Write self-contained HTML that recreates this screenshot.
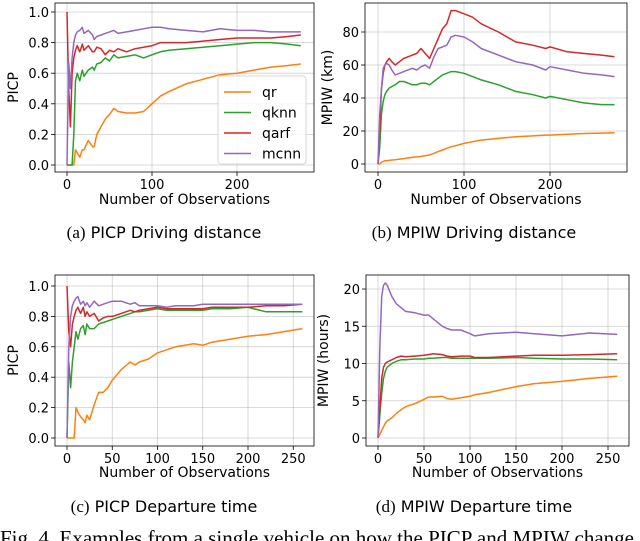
<!DOCTYPE html>
<html><head><meta charset="utf-8"><style>
body{margin:0;background:#fff;width:640px;height:541px;overflow:hidden}
svg{display:block}
</style></head><body>
<svg id="fig" width="640" height="541" xmlns="http://www.w3.org/2000/svg">
<text x="164" y="238" text-anchor="middle" font-size="17"><tspan font-family="Liberation Serif, serif">(a)</tspan><tspan font-family="DejaVu Sans, sans-serif" font-size="16"> PICP Driving distance</tspan></text>
<text x="474" y="238" text-anchor="middle" font-size="17"><tspan font-family="Liberation Serif, serif">(b)</tspan><tspan font-family="DejaVu Sans, sans-serif" font-size="16"> MPIW Driving distance</tspan></text>
<text x="164" y="512" text-anchor="middle" font-size="17"><tspan font-family="Liberation Serif, serif">(c)</tspan><tspan font-family="DejaVu Sans, sans-serif" font-size="16"> PICP Departure time</tspan></text>
<text x="474" y="512" text-anchor="middle" font-size="17"><tspan font-family="Liberation Serif, serif">(d)</tspan><tspan font-family="DejaVu Sans, sans-serif" font-size="16"> MPIW Departure time</tspan></text>
<text x="0" y="545" font-family="Liberation Serif, serif" font-size="21">Fig. 4.  Examples from a single vehicle on how the PICP and MPIW change</text>
</svg>
<script>
const seriesNames=["qr","qknn","qarf","mcnn"];
const colors=["#ff7f0e","#2ca02c","#d62728","#9467bd"];

const aX=[0,2,4,6,8,10,12,15,18,20,25,30,32,35,40,45,50,55,60,70,80,90,100,110,120,140,160,180,200,220,240,260,275];
const aQr=[0,0,0,0,0,0.1,0.08,0.05,0.1,0.1,0.16,0.12,0.12,0.2,0.25,0.3,0.33,0.37,0.35,0.34,0.34,0.35,0.4,0.45,0.48,0.53,0.56,0.59,0.6,0.62,0.64,0.65,0.66];
const aQknn=[0,0,0,0,0.2,0.55,0.6,0.55,0.62,0.58,0.62,0.64,0.62,0.66,0.67,0.7,0.68,0.72,0.7,0.71,0.72,0.7,0.72,0.74,0.75,0.76,0.77,0.78,0.79,0.8,0.8,0.79,0.78];
const aQarf=[1,0.5,0.25,0.6,0.7,0.75,0.78,0.74,0.79,0.75,0.78,0.74,0.74,0.77,0.76,0.72,0.75,0.74,0.76,0.74,0.76,0.77,0.78,0.8,0.8,0.8,0.81,0.82,0.83,0.83,0.83,0.84,0.85];
const aMcnn=[0,0.67,0.5,0.7,0.8,0.85,0.87,0.88,0.9,0.86,0.88,0.85,0.82,0.84,0.85,0.86,0.87,0.88,0.86,0.87,0.88,0.89,0.9,0.9,0.89,0.88,0.87,0.89,0.88,0.88,0.87,0.87,0.87];

const bX=[0,2,4,6,8,10,13,16,20,25,30,40,45,50,55,60,65,70,75,80,85,90,100,110,120,140,160,180,195,200,220,240,260,275];
const bQr=[0,0,1,1.5,2,2,2.2,2.4,2.6,3,3.3,4,4.3,4.6,5,5.5,6.5,7.5,8.5,9.5,10.5,11,12.5,13.5,14.5,15.5,16.5,17,17.5,17.5,18,18.5,18.7,19];
const bQknn=[0,10,30,38,42,44,46,47,48,50,50,48,48,49,49,48,50,52,54,55,56,56,55,53,51,48,44,42,40,41,39,37,36,36];
const bQarf=[0,20,45,55,60,62,64,62,60,62,64,66,67,70,67,64,70,76,82,85,93,93,91,89,85,80,74,72,70,71,68,67,66,65];
const bMcnn=[0,30,45,58,60,61,60,57,54,55,56,58,57,59,60,58,65,70,71,72,77,78,77,74,70,66,62,60,57,59,57,55,54,53];

const cX=[0,2,4,6,8,10,12,15,18,20,22,25,30,35,40,45,50,60,70,75,80,90,100,110,120,140,150,160,180,200,220,240,260];
const cQr=[0,0,0,0,0,0.2,0.17,0.14,0.12,0.1,0.15,0.12,0.22,0.3,0.3,0.33,0.38,0.45,0.5,0.48,0.5,0.52,0.56,0.58,0.6,0.62,0.61,0.63,0.65,0.67,0.68,0.7,0.72];
const cQknn=[0,0.5,0.33,0.5,0.6,0.7,0.65,0.72,0.74,0.68,0.75,0.72,0.72,0.75,0.76,0.77,0.78,0.8,0.82,0.83,0.83,0.84,0.85,0.84,0.84,0.84,0.84,0.85,0.85,0.86,0.83,0.83,0.83];
const cQarf=[1,0.7,0.6,0.75,0.8,0.84,0.86,0.82,0.86,0.8,0.83,0.8,0.82,0.77,0.79,0.8,0.8,0.82,0.84,0.83,0.84,0.85,0.86,0.85,0.85,0.85,0.85,0.86,0.86,0.86,0.87,0.87,0.88];
const cMcnn=[0,0.6,0.8,0.87,0.9,0.92,0.93,0.88,0.9,0.87,0.89,0.86,0.9,0.87,0.88,0.89,0.9,0.9,0.88,0.89,0.87,0.87,0.87,0.86,0.87,0.87,0.88,0.88,0.88,0.88,0.88,0.88,0.88];

const dX=[0,2,4,6,8,10,15,20,25,30,40,50,55,60,70,75,80,90,100,105,110,120,150,170,200,230,260];
const dQr=[0,0.5,1,1.5,2,2.3,2.7,3.3,3.8,4.2,4.6,5.2,5.5,5.5,5.6,5.3,5.2,5.4,5.6,5.8,5.9,6.1,6.9,7.3,7.6,8,8.3];
const dQknn=[0,3,6,8,9,9.5,10,10.3,10.5,10.5,10.6,10.6,10.7,10.7,10.8,10.8,10.7,10.7,10.7,10.7,10.7,10.7,10.8,10.7,10.6,10.6,10.5];
const dQarf=[0,4,8,9.5,10,10.2,10.5,10.8,11,10.9,11,11.1,11.2,11.3,11.2,11,10.9,11,11,10.8,10.8,10.8,11,11.1,11.1,11.2,11.3];
const dMcnn=[0,12,19,20.5,20.8,20.5,19,18,17.5,17,16.8,16.5,16.5,16,15,14.7,14.5,14.5,14,13.7,13.8,14,14.2,14,13.7,14.1,13.9];

const aXTicks=[0,100,200], aYTicks=[0,0.2,0.4,0.6,0.8,1.0], aYLabels=["0.0","0.2","0.4","0.6","0.8","1.0"];
const bXTicks=[0,100,200], bYTicks=[0,20,40,60,80], bYLabels=["0","20","40","60","80"];
const cXTicks=[0,50,100,150,200,250], cYTicks=[0,0.2,0.4,0.6,0.8,1.0], cYLabels=["0.0","0.2","0.4","0.6","0.8","1.0"];
const dXTicks=[0,50,100,150,200,250], dYTicks=[0,5,10,15,20], dYLabels=["0","5","10","15","20"];

const NS="http://www.w3.org/2000/svg";
const svg=document.getElementById('fig');
function mk(tag,attrs,parent){const e=document.createElementNS(NS,tag);for(const k in attrs)e.setAttribute(k,attrs[k]);(parent||svg).appendChild(e);return e;}

const panels=[
 {id:'a',box:[55,3,314,172],x0:67,xs:0.85,y0:165,ys:153,X:aX,S:[aQr,aQknn,aQarf,aMcnn],xt:aXTicks,yt:aYTicks,yl:aYLabels,ylab:'PICP',ylx:18,xlabY:204,legend:true},
 {id:'b',box:[365,3,627,172],x0:378,xs:0.86,y0:164,ys:1.65,X:bX,S:[bQr,bQknn,bQarf,bMcnn],xt:bXTicks,yt:bYTicks,yl:bYLabels,ylab:'MPIW (km)',ylx:332,xlabY:204},
 {id:'c',box:[55,275,314,446],x0:67,xs:0.905,y0:438,ys:152,X:cX,S:[cQr,cQknn,cQarf,cMcnn],xt:cXTicks,yt:cYTicks,yl:cYLabels,ylab:'PICP',ylx:18,xlabY:477},
 {id:'d',box:[366,275,629,446],x0:378,xs:0.92,y0:438,ys:7.45,X:dX,S:[dQr,dQknn,dQarf,dMcnn],xt:dXTicks,yt:dYTicks,yl:dYLabels,ylab:'MPIW (hours)',ylx:328,xlabY:477}
];
const F='DejaVu Sans, Liberation Sans, sans-serif';
panels.forEach(p=>{
 const g=mk('g',{});
 
 
 const sx=v=>p.x0+v*p.xs, sy=v=>p.y0-v*p.ys;
 const [L,T,R,B]=p.box;
 p.xt.forEach(t=>{
  const gl=mk('line',{x1:sx(t),x2:sx(t),y1:T,y2:B,stroke:'#b0b0b0','stroke-width':0.8,opacity:0.6},g);
  
  
  mk('line',{x1:sx(t),x2:sx(t),y1:B,y2:B+4,stroke:'#000','stroke-width':0.8},g);
  const tx=mk('text',{x:sx(t),y:B+17,'text-anchor':'middle','font-family':F,'font-size':13},g);
  tx.textContent=t;
  
  
 });
 p.yt.forEach((t,i)=>{
  const gl=mk('line',{x1:L,x2:R,y1:sy(t),y2:sy(t),stroke:'#b0b0b0','stroke-width':0.8,opacity:0.6},g);
  
  
  mk('line',{x1:L-4,x2:L,y1:sy(t),y2:sy(t),stroke:'#000','stroke-width':0.8},g);
  const tx=mk('text',{x:L-6,y:sy(t)+5,'text-anchor':'end','font-family':F,'font-size':13},g);
  tx.textContent=p.yl[i];
  
  
 });
 p.S.forEach((ys,si)=>{
  const d=ys.map((v,i)=>(i?'L':'M')+sx(p.X[i]).toFixed(1)+','+sy(v).toFixed(1)).join(' ');
  const pa=mk('path',{d:d,fill:'none',stroke:colors[si],'stroke-width':1.5,'stroke-linejoin':'round'},g);
  
  
 });
 const fr=mk('rect',{x:L,y:T,width:R-L,height:B-T,fill:'none',stroke:'#000','stroke-width':0.8},g);
 
 
 const xl=mk('text',{x:(L+R)/2,y:p.xlabY,'text-anchor':'middle','font-family':F,'font-size':14},g);
 xl.textContent='Number of Observations';
 
 
 const cy=(T+B)/2;
 const yl=mk('text',{x:p.ylx,y:cy,'text-anchor':'middle','font-family':F,'font-size':14,transform:'rotate(-90 '+p.ylx+' '+cy+')'},g);
 yl.textContent=p.ylab;
 
 
 if(p.legend){
  const lg=mk('g',{},g);
  
  
  mk('rect',{x:218,y:76,width:88,height:88,rx:3,fill:'#fff','fill-opacity':0.85,stroke:'#ccc','stroke-width':0.8},lg);
  seriesNames.forEach((n,i)=>{
   const yy=92+i*20.5;
   const en=mk('g',{},lg);
   
   
   mk('line',{x1:224,x2:251,y1:yy,y2:yy,stroke:colors[i],'stroke-width':1.5},en);
   const t=mk('text',{x:262,y:yy+5,'font-family':F,'font-size':14},en);
   t.textContent=n;
  });
 }
});
</script>
</body></html>
